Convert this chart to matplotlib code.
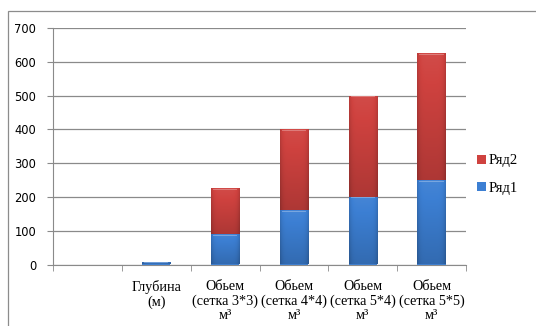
import matplotlib
matplotlib.use("Agg")
import matplotlib.pyplot as plt
from matplotlib.patches import Rectangle
from matplotlib.colors import to_rgb
import numpy as np

categories = ["", "Глубина\n(м)", "Обьем\n(сетка 3*3)\nм³", "Обьем\n(сетка 4*4)\nм³",
              "Обьем\n(сетка 5*4)\nм³", "Обьем\n(сетка 5*5)\nм³"]
row1 = [0, 8, 90, 160, 200, 250]
row2 = [0, 0, 135, 240, 300, 375]
series_names = ["Ряд1", "Ряд2"]
yticks = [0, 100, 200, 300, 400, 500, 600, 700]

BLUE = "#3c7fd3"
RED = "#cf423f"


def shade(color, top_light, bottom_dark, h=64, w=32):
    """Bevel-like gradient: lighter at the top, darker at the bottom and the edges."""
    base = np.array(to_rgb(color))
    v = np.linspace(top_light, -bottom_dark, h)[:, None]
    u = np.linspace(-1, 1, w)[None, :]
    f = v - 0.15 * np.abs(u) ** 6
    f = f[..., None]
    img = np.where(f > 0, base + (1 - base) * f, base * (1 + f))
    return np.clip(img, 0, 1)


def gradient_bars(ax, bars, color):
    img = shade(color, 0.05, 0.16)
    for b in bars:
        h = b.get_height()
        if h <= 0:
            continue
        x0, y0 = b.get_x(), b.get_y()
        w = b.get_width()
        im = ax.imshow(img, extent=(x0, x0 + w, y0, y0 + h), origin="upper",
                       aspect="auto", zorder=3, interpolation="bilinear")
        im.set_clip_path(b)
        # light rim at the top of each segment
        rim = min(h, 6)
        ax.add_patch(Rectangle((x0 + w * 0.07, y0 + h - rim * 0.75), w * 0.86, rim * 0.5,
                               facecolor="white", alpha=0.28, lw=0, zorder=4))


fig = plt.figure(figsize=(5.36, 3.26), dpi=100)
fig.patch.set_facecolor("white")
fig.add_artist(Rectangle((8 / 536, -0.1), 1.2, 1 - 11 / 326 + 0.1, transform=fig.transFigure,
                         fill=False, edgecolor="#8c8c8c", lw=0.9))

ax = fig.add_axes([53 / 536, 1 - 264.5 / 326, 413 / 536, 236.5 / 326])
x = np.arange(len(categories))
width = 0.41
b1 = ax.bar(x, row1, width, color=BLUE, edgecolor="none", zorder=2, label=series_names[0])
b2 = ax.bar(x, row2, width, bottom=row1, color=RED, edgecolor="none", zorder=2,
            label=series_names[1])
gradient_bars(ax, b1, BLUE)
gradient_bars(ax, b2, RED)

ax.set_xlim(-0.5, len(categories) - 0.5)
ax.set_ylim(0, 700)
ax.set_yticks(yticks)
ax.yaxis.grid(True, color="#8a8a8a", lw=0.9)
ax.set_axisbelow(True)
for s in ["top", "right"]:
    ax.spines[s].set_visible(False)
ax.spines["left"].set_color("#8a8a8a")
ax.spines["bottom"].set_color("#8a8a8a")
ax.tick_params(axis="y", length=4, color="#8a8a8a", labelsize=8.3, pad=8)
ax.set_xticks(x)
ax.set_xticklabels(categories, family="Liberation Serif", fontsize=10.2, linespacing=1.15)
ax.set_xticks(np.arange(-0.5, len(categories)), minor=True)
ax.tick_params(axis="x", which="major", length=0, pad=11)
ax.tick_params(axis="x", which="minor", length=4, color="#8a8a8a")

leg = ax.legend([b2, b1], [series_names[1], series_names[0]], loc="center left",
                bbox_to_anchor=(0.995, 0.38), frameon=False, handlelength=0.6,
                handleheight=0.6, handletextpad=0.2, labelspacing=1.0,
                prop={"family": "Liberation Serif", "size": 10.5})

fig.savefig("out.png", dpi=100)
